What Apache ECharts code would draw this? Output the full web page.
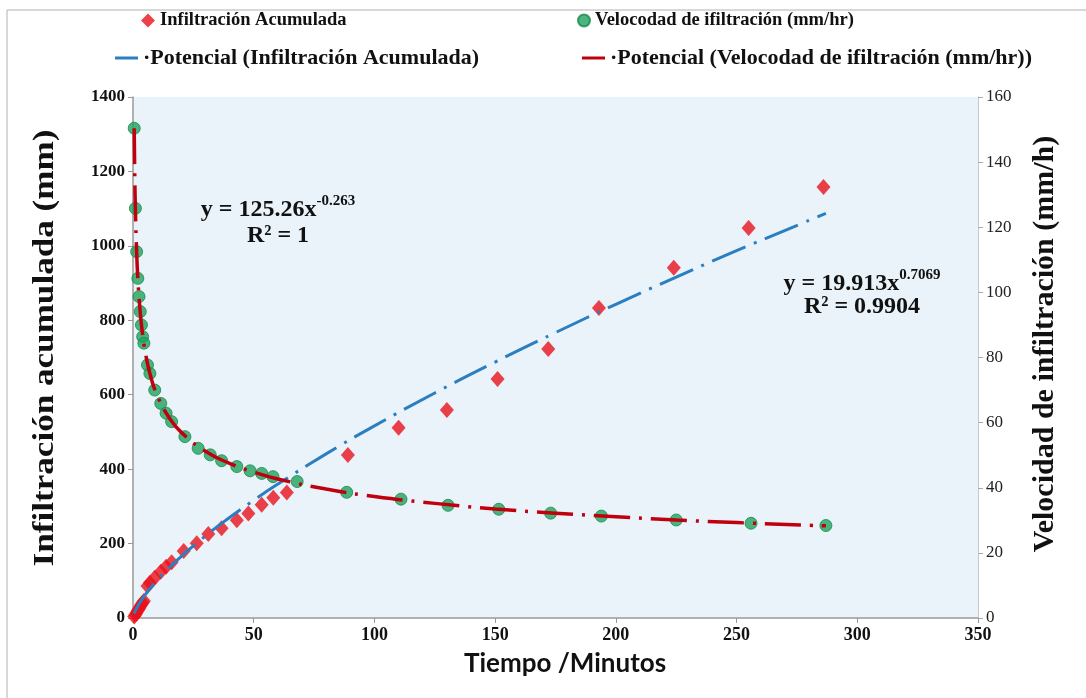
<!DOCTYPE html>
<html>
<head>
<meta charset="utf-8">
<script src="https://cdn.jsdelivr.net/npm/echarts@6/dist/echarts.min.js"></script>
<style>
html,body{margin:0;padding:0;background:#fff;}
#chart{width:1086px;height:698px;}
</style>
</head>
<body>
<div id="chart"></div>
<script>
// ---- Data ----
// Infiltración Acumulada (mm) — red diamonds, left axis
var infTime  = [0.5, 1, 1.5, 2, 2.5, 3, 3.5, 4, 4.5, 6, 7, 9, 11.5, 13.7, 16, 21, 26.4, 31.2, 36.7, 43, 47.8, 53.3, 58.1, 63.7, 89, 110, 130, 151, 172, 193, 224, 255, 286];
var infValue = [4, 9, 14, 20, 25, 31, 36, 41, 46, 86, 95, 108, 124, 138, 150, 180, 201, 226, 241, 263, 281, 304, 323, 337, 438, 511, 559, 642, 723, 833, 941, 1048, 1158];

// Velocidad de infiltración (mm/hr) — green circles, right axis
var velTime  = [0.5, 1, 1.5, 2, 2.5, 3, 3.5, 4, 4.5, 6, 7, 9, 11.5, 13.7, 16, 21.5, 27, 32, 36.7, 43, 48.5, 53.3, 58, 68, 88.5, 111, 130.5, 151.5, 173, 194, 225, 256, 287];
var velValue = [150.4, 125.8, 112.5, 104.3, 98.7, 94.1, 90.0, 86.4, 84.4, 77.7, 75.1, 70.0, 65.9, 62.9, 60.3, 55.7, 52.1, 50.1, 48.3, 46.5, 45.2, 44.4, 43.4, 41.9, 38.6, 36.5, 34.6, 33.4, 32.2, 31.3, 30.1, 29.1, 28.4];

// Trend line "Potencial (Infiltración Acumulada)" — blue, left axis
var fitInfTime  = [0.5, 1, 2, 3, 5, 7, 10, 15, 20, 30, 40, 50, 60, 80, 100, 125, 150, 175, 200, 225, 250, 287];
var fitInfValue = [12.2, 19.9, 32.5, 43.3, 62.1, 78.8, 101.4, 135.1, 165.5, 220.5, 270.2, 316.3, 359.8, 441, 516.4, 604.6, 687.8, 767, 843, 916, 987, 1087];

// Trend line "Potencial (Velocodad de ifiltración (mm/hr))" — dark red, right axis
var fitVelTime  = [0.5, 0.75, 1, 1.5, 2, 3, 4, 5, 7, 10, 15, 20, 30, 40, 50, 60, 80, 100, 125, 150, 175, 200, 225, 250, 287];
var fitVelValue = [150.4, 135.1, 125.3, 112.6, 104.4, 93.8, 87.0, 82.0, 75.1, 68.4, 61.5, 57.0, 51.2, 47.5, 44.8, 42.7, 39.6, 37.3, 35.2, 33.5, 32.2, 31.1, 30.1, 29.3, 28.3];

var seriesNames = ['Infiltración Acumulada', 'Velocodad de ifiltración (mm/hr)', 'Potencial (Infiltración Acumulada)', 'Potencial (Velocodad de ifiltración (mm/hr))'];
var xTitle = 'Tiempo /Minutos';
var yLeftTitle = 'Infiltración acumulada (mm)';
var yRightTitle = 'Velocidad de infiltración (mm/h)';
var eqLeft = ['y = 125.26x', '-0.263', 'R² = 1'];
var eqRight = ['y = 19.913x', '0.7069', 'R² = 0.9904'];

function pairs(xs, ys){ return xs.map(function(x,i){ return [x, ys[i]]; }); }
function plain(v){ return String(v); }

var SERIF = "'Liberation Serif','Times New Roman',serif";
var chart = echarts.init(document.getElementById('chart'), null, {renderer:'canvas'});

var legendText1 = {fontFamily: SERIF, fontWeight: 'bold', fontSize: 18.5, color: '#111'};
var legendText2 = {fontFamily: SERIF, fontWeight: 'bold', fontSize: 22, color: '#111'};

function eqRich(){
  return {a: {font: 'bold 24px ' + SERIF, fill: '#111', lineHeight: 28, verticalAlign: 'bottom'},
          s: {font: 'bold 15px ' + SERIF, fill: '#111', lineHeight: 28, verticalAlign: 'top'}};
}

var option = {
  backgroundColor: '#ffffff',
  animation: false,
  grid: {left: 133, right: 108, top: 97, bottom: 80, show: true, backgroundColor: '#e9f3f9', borderWidth: 0},
  legend: [
    {data: [seriesNames[0]], left: 141, top: 11, padding: 0, itemWidth: 14, itemHeight: 14, itemGap: 6, textStyle: legendText1, selectedMode: false},
    {data: [seriesNames[1]], left: 577, top: 11, padding: 0, itemWidth: 12, itemHeight: 12, textStyle: legendText1, selectedMode: false},
    {data: [{name: seriesNames[2], icon: 'rect'}], left: 115, top: 47, padding: 0, itemWidth: 23, itemHeight: 3, itemGap: 3, textStyle: legendText2, formatter: '·{name}', selectedMode: false},
    {data: [{name: seriesNames[3], icon: 'rect'}], left: 582, top: 47, padding: 0, itemWidth: 23, itemHeight: 3, itemGap: 3, textStyle: legendText2, formatter: '·{name}', selectedMode: false}
  ],
  xAxis: {
    type: 'value', min: 0, max: 350, interval: 50,
    axisLine: {show: true, lineStyle: {color: '#999', width: 1.5}},
    axisTick: {show: true, inside: false, length: 5, lineStyle: {color: '#999'}},
    splitLine: {show: false},
    axisLabel: {fontFamily: SERIF, fontWeight: 'bold', fontSize: 18, color: '#111', margin: 8, formatter: plain}
  },
  yAxis: [
    {
      type: 'value', min: 0, max: 1400, interval: 200, position: 'left',
      axisLine: {show: true, lineStyle: {color: '#999', width: 1.5}},
      axisTick: {show: true, inside: false, length: 5, lineStyle: {color: '#999'}},
      splitLine: {show: false},
      axisLabel: {fontFamily: SERIF, fontWeight: 'bold', fontSize: 17, color: '#111', margin: 8, formatter: plain}
    },
    {
      type: 'value', min: 0, max: 160, interval: 20, position: 'right',
      axisLine: {show: true, lineStyle: {color: '#c8c8c8', width: 1}},
      axisTick: {show: true, inside: false, length: 5, lineStyle: {color: '#aaa'}},
      splitLine: {show: false},
      axisLabel: {fontFamily: SERIF, fontSize: 17, color: '#222', margin: 8, formatter: plain}
    }
  ],
  series: [
    {
      name: seriesNames[0], type: 'scatter', yAxisIndex: 0, symbol: 'diamond', symbolSize: [14, 16],
      itemStyle: {color: '#e8121c'}, z: 2,
      data: pairs(infTime, infValue)
    },
    {
      name: seriesNames[1], type: 'scatter', yAxisIndex: 1, symbol: 'circle', symbolSize: 12,
      itemStyle: {color: '#1fa35c', borderColor: '#178a4a', borderWidth: 1}, z: 2,
      data: pairs(velTime, velValue)
    },
    {
      name: seriesNames[2], type: 'line', yAxisIndex: 0, symbol: 'none', smooth: true,
      lineStyle: {color: '#2b7fc0', width: 3, type: [36, 9, 3, 9]}, itemStyle: {color: '#2b7fc0'}, z: 3,
      data: pairs(fitInfTime, fitInfValue)
    },
    {
      name: seriesNames[3], type: 'line', yAxisIndex: 1, symbol: 'none', smooth: true,
      lineStyle: {color: '#c0000e', width: 3.5, type: [36, 9, 3, 9]}, itemStyle: {color: '#c0000e'}, z: 3,
      data: pairs(fitVelTime, fitVelValue)
    }
  ],
  graphic: [
    {type: 'rect', shape: {x: 7, y: 10, width: 1200, height: 800}, style: {fill: 'none', stroke: '#b0b0b0', lineWidth: 1}, silent: true, z: -10},
    {type: 'text', x: 565, y: 664, style: {text: xTitle, font: "bold 26px Lato, 'Open Sans', sans-serif", fill: '#111', align: 'center', verticalAlign: 'middle'}},
    {type: 'text', x: 45, y: 348, rotation: Math.PI / 2, scaleX: 1.17, style: {text: yLeftTitle, font: 'bold 30px ' + SERIF, fill: '#111', align: 'center', verticalAlign: 'middle'}},
    {type: 'text', x: 1045, y: 344, rotation: Math.PI / 2, style: {text: yRightTitle, font: 'bold 30px ' + SERIF, fill: '#111', align: 'center', verticalAlign: 'middle'}},
    {type: 'text', x: 278, y: 208, style: {text: '{a|' + eqLeft[0] + '}{s|' + eqLeft[1] + '}', align: 'center', verticalAlign: 'middle', rich: eqRich()}},
    {type: 'text', x: 278, y: 236, style: {text: eqLeft[2], font: 'bold 24px ' + SERIF, fill: '#111', align: 'center', verticalAlign: 'middle'}},
    {type: 'text', x: 862, y: 282, style: {text: '{a|' + eqRight[0] + '}{s|' + eqRight[1] + '}', align: 'center', verticalAlign: 'middle', rich: eqRich()}},
    {type: 'text', x: 862, y: 307, style: {text: eqRight[2], font: 'bold 24px ' + SERIF, fill: '#111', align: 'center', verticalAlign: 'middle'}}
  ]
};
chart.setOption(option);
</script>
</body>
</html>
